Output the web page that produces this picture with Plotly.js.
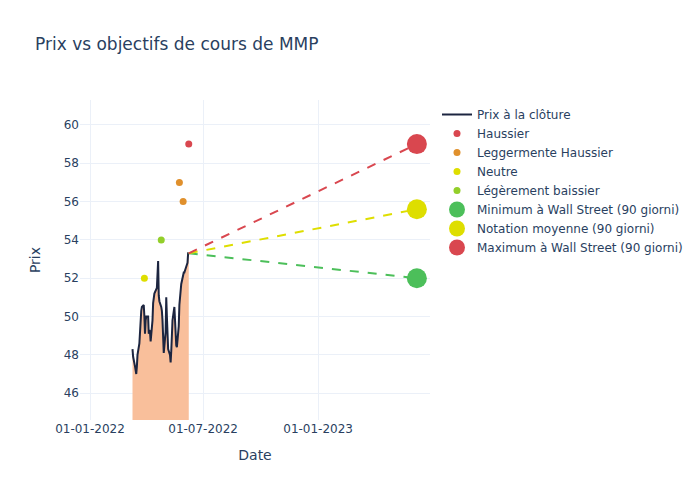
<!DOCTYPE html>
<html>
<head>
<meta charset="utf-8">
<script src="https://cdn.plot.ly/plotly-3.0.1.min.js"></script>
<style>html,body{margin:0;padding:0;background:#fff}#chart{width:700px;height:500px}</style>
</head>
<body>
<div id="chart"></div>
<script>
const priceDates = [
"2022-03-10","2022-03-11","2022-03-14","2022-03-15","2022-03-16","2022-03-17","2022-03-18",
"2022-03-21","2022-03-22","2022-03-23","2022-03-24","2022-03-25","2022-03-28","2022-03-29",
"2022-03-30","2022-03-31","2022-04-01","2022-04-04","2022-04-05","2022-04-06","2022-04-07",
"2022-04-08","2022-04-11","2022-04-12","2022-04-13","2022-04-14","2022-04-18","2022-04-19",
"2022-04-20","2022-04-21","2022-04-22","2022-04-25","2022-04-26","2022-04-27","2022-04-28",
"2022-04-29","2022-05-02","2022-05-03","2022-05-04","2022-05-05","2022-05-06","2022-05-09",
"2022-05-10","2022-05-11","2022-05-12","2022-05-13","2022-05-16","2022-05-17","2022-05-18",
"2022-05-19","2022-05-20","2022-05-23","2022-05-24","2022-05-25","2022-05-26","2022-05-27",
"2022-05-31","2022-06-01","2022-06-02","2022-06-03","2022-06-06","2022-06-07","2022-06-08"];
const priceValues = [
48.3,47.9,47.4,47.1,47.0,47.4,48.0,
48.6,49.4,50.0,50.3,50.5,50.6,50.0,
49.1,49.8,50.0,50.0,49.1,49.3,49.2,
48.7,49.8,50.7,51.0,51.2,51.5,52.3,
52.9,51.1,50.8,50.5,50.3,49.8,48.5,
48.1,49.2,51.0,50.0,49.0,48.3,48.0,
47.6,48.2,49.0,49.8,50.5,49.6,48.6,
48.5,48.4,49.5,50.6,51.0,51.3,51.7,
52.3,52.3,52.4,52.5,52.8,53.3,53.3];

const ratingNames = ["Haussier","Leggermente Haussier","Neutre","Légèrement baissier"];
const ratingDates = [["2022-06-08"],["2022-05-24","2022-05-30"],["2022-03-29"],["2022-04-25"]];
const ratingValues = [[59],[57,56],[52],[54]];
const ratingColors = ["#d9474f","#e0902c","#dede00","#93cf2a"];

const targetNames = ["Minimum à Wall Street (90 giorni)","Notation moyenne (90 giorni)","Maximum à Wall Street (90 giorni)"];
const targetDate = "2023-06-08";
const targetValues = [52, 55.6, 59];
const targetColors = ["#4cbf5a","#dede00","#d9474f"];

const traces = [];
traces.push({x: priceDates, y: priceValues, type: "scatter", mode: "lines", fill: "tozeroy",
  fillcolor: "#f9bf9b", line: {width: 0, color: "#f9bf9b"}, showlegend: false, hoverinfo: "skip"});
traces.push({x: priceDates, y: priceValues, type: "scatter", mode: "lines", name: "Prix à la clôture",
  line: {color: "#1c2540", width: 2}});
for (let i = 0; i < ratingNames.length; i++) {
  traces.push({x: ratingDates[i], y: ratingValues[i], type: "scatter", mode: "markers", name: ratingNames[i],
    marker: {color: ratingColors[i], size: 7}});
}
const lastDate = priceDates[priceDates.length - 1];
const lastVal = priceValues[priceValues.length - 1];
for (let i = 0; i < targetNames.length; i++) {
  traces.push({x: [lastDate, targetDate], y: [lastVal, targetValues[i]], type: "scatter", mode: "lines",
    line: {color: targetColors[i], width: 2, dash: "dash"}, showlegend: false, hoverinfo: "skip"});
}
for (let i = 0; i < targetNames.length; i++) {
  traces.push({x: [targetDate], y: [targetValues[i]], type: "scatter", mode: "markers", name: targetNames[i],
    marker: {color: targetColors[i], size: 20}});
}

const layout = {
  width: 700, height: 500,
  paper_bgcolor: "#fff", plot_bgcolor: "#fff",
  font: {family: "DejaVu Sans, sans-serif", color: "#2a3f5f", size: 12},
  title: {text: "Prix vs objectifs de cours de MMP", x: 0.05, font: {size: 17}},
  margin: {l: 80, r: 80, t: 100, b: 80},
  xaxis: {title: {text: "Date", font: {size: 14}, standoff: 15}, automargin: true, type: "date",
    range: ["2021-12-16", "2023-06-29"],
    tickformat: "%d-%m-%Y", dtick: "M6", tick0: "2022-01-01", gridcolor: "#ebf0f8", zeroline: false,
    showline: false},
  yaxis: {title: {text: "Prix", font: {size: 14}, standoff: 19}, automargin: true, range: [44.6, 61.3],
    dtick: 2, gridcolor: "#ebf0f8", zeroline: false, showline: false},
  legend: {font: {size: 12}},
  showlegend: true
};
Plotly.newPlot("chart", traces, layout, {displayModeBar: false});
</script>
</body>
</html>
